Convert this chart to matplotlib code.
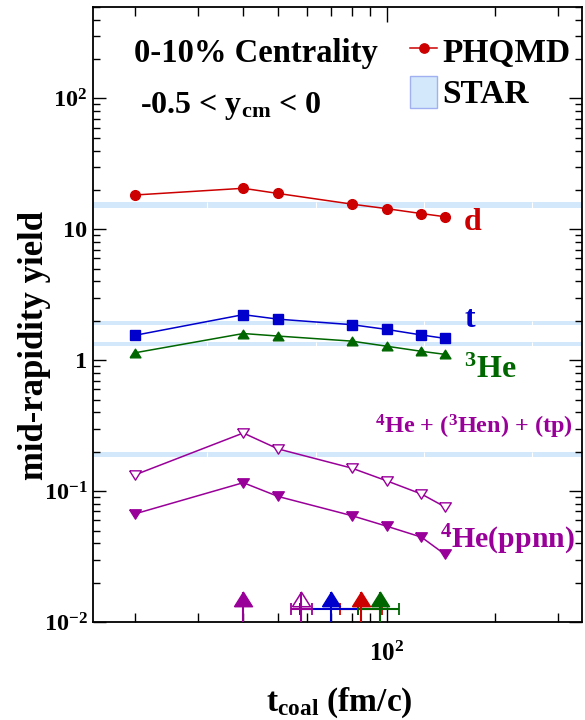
import matplotlib
matplotlib.use("Agg")
import matplotlib.pyplot as plt
from matplotlib.lines import Line2D
from matplotlib.patches import Patch
from matplotlib.ticker import FixedLocator, FixedFormatter, NullFormatter

# ---------------- data ----------------
t_coal = [20, 40, 50, 80, 100, 125, 145]          # fm/c
yield_d = [18.3, 20.6, 18.8, 15.6, 14.4, 13.2, 12.5]
yield_t = [1.55, 2.23, 2.06, 1.87, 1.72, 1.56, 1.47]
yield_he3 = [1.14, 1.60, 1.53, 1.40, 1.28, 1.17, 1.11]
yield_he4_sum = [0.133, 0.278, 0.210, 0.150, 0.120, 0.095, 0.076]
yield_he4_ppnn = [0.067, 0.116, 0.091, 0.065, 0.054, 0.0445, 0.033]

star_val = [15.3, 1.92, 1.33, 0.191]
star_err = [0.75, 0.07, 0.05, 0.0095]
band_breaks = [31.7, 63.6, 127, 254]

# best-matching coalescence times (arrows at the bottom)
best_t = [40, 57.7, 70, 85, 96.2]
best_lo = [40, 54.2, 57.4, 74.2, 83.4]
best_hi = [40, 62.0, 83.4, 97.4, 108.4]
best_filled = [True, False, True, True, True]
arrow_tip, arrow_mid, arrow_bar = 0.017, 0.0150, 0.0126

y_ticks = [0.01, 0.1, 1, 10, 100]
y_ticklabels = [r"$10^{-2}$", r"$10^{-1}$", "1", "10", r"$10^{2}$"]
x_ticks = [100]
x_ticklabels = [r"$10^{2}$"]

# ---------------- style ----------------
RED, BLUE, GREEN, PURPLE = "#cc0000", "#0000cc", "#006600", "#990099"
BAND = "#d3e8fb"

plt.rcParams["font.family"] = ["Liberation Serif", "DejaVu Serif"]
plt.rcParams["font.weight"] = "bold"
plt.rcParams["mathtext.fontset"] = "custom"
plt.rcParams["mathtext.rm"] = "Liberation Serif:bold"
plt.rcParams["mathtext.it"] = "Liberation Serif:bold"
plt.rcParams["mathtext.bf"] = "Liberation Serif:bold"
plt.rcParams["mathtext.default"] = "rm"

tri_up = [(-1, -0.8), (1, -0.8), (0, 0.8), (-1, -0.8)]
tri_dn = [(-1, 0.8), (1, 0.8), (0, -0.8), (-1, 0.8)]

fig = plt.figure(figsize=(5.85, 7.2), dpi=100)
ax = fig.add_axes([93 / 585, 98 / 720, 489 / 585, 615 / 720])
ax.set_xscale("log")
ax.set_yscale("log")
ax.set_xlim(15.3, 349)
ax.set_ylim(0.01, 500)

# STAR bands
for v, e in zip(star_val, star_err):
    ax.axhspan(v - e, v + e, color=BAND, lw=0, zorder=1)
    ax.vlines(band_breaks, v - e, v + e, color="white", lw=0.8, zorder=1.5)

# PHQMD curves
lw = 1.1
ax.plot(t_coal, yield_d, color=RED, lw=lw, marker="o", ms=7.0, zorder=3)
ax.plot(t_coal, yield_t, color=BLUE, lw=lw, marker="s", ms=7.0, zorder=3)
ax.plot(t_coal, yield_he3, color=GREEN, lw=lw, marker=tri_up, ms=7.8, zorder=3)
ax.plot(t_coal, yield_he4_sum, color=PURPLE, lw=lw, marker=tri_dn, ms=8.4,
        mfc="white", mec=PURPLE, mew=1.0, zorder=3)
ax.plot(t_coal, yield_he4_ppnn, color=PURPLE, lw=lw, marker=tri_dn, ms=8.4, zorder=3)

# arrows with uncertainty bars
arrow_cols = [PURPLE, PURPLE, BLUE, RED, GREEN]
order = [3, 2, 4, 1, 0]
for i in order:
    c = arrow_cols[i]
    if best_hi[i] > best_lo[i]:
        ax.errorbar([best_t[i]], [arrow_bar],
                    xerr=[[best_t[i] - best_lo[i]], [best_hi[i] - best_t[i]]],
                    fmt="none", ecolor=c, elinewidth=1.5, capsize=4.6,
                    capthick=1.3, zorder=4)
for i in order:
    c = arrow_cols[i]
    ax.vlines(best_t[i], 0.01, arrow_tip, color=c, lw=1.5, zorder=5)
    if best_filled[i]:
        ax.plot([best_t[i]], [arrow_mid], marker=tri_up, ms=13, color=c,
                mec=c, lw=0, zorder=6)
    else:
        ax.plot([best_t[i]], [arrow_mid], marker=tri_up, ms=13, mfc="none",
                mec=c, mew=1.1, lw=0, zorder=6)

# ticks
ax.yaxis.set_major_locator(FixedLocator(y_ticks))
ax.yaxis.set_major_formatter(FixedFormatter(y_ticklabels))
ax.yaxis.set_minor_formatter(NullFormatter())
ax.xaxis.set_major_locator(FixedLocator(x_ticks))
ax.xaxis.set_major_formatter(FixedFormatter(x_ticklabels))
ax.xaxis.set_minor_formatter(NullFormatter())
ax.tick_params(axis="both", which="both", direction="in", top=True, right=True,
               width=1.0, color="black")
ax.tick_params(axis="y", which="major", length=9.5, pad=4, labelsize=17.5)
ax.tick_params(axis="y", which="minor", length=5)
ax.tick_params(axis="x", which="major", length=11, pad=14, labelsize=18)
ax.tick_params(axis="x", which="minor", length=6.5)
for s in ax.spines.values():
    s.set_linewidth(1.3)

# axis labels
ax.set_xlabel(r"t$_{\mathregular{coal}}$ (fm/c)", fontsize=24, fontweight="bold")
ax.xaxis.set_label_coords(0.503, -0.104)
ax.set_ylabel("mid-rapidity yield", fontsize=25, fontweight="bold")
ax.yaxis.set_label_coords(-0.085, 0.45)

# annotations
T = ax.transAxes
ax.text(0.0838, 0.9106, "0-10% Centrality", transform=T, fontsize=23.5,
        va="baseline", ha="left")
ax.text(0.0961, 0.8276, r"-0.5 < y$_{\mathregular{cm}}$ < 0", transform=T,
        fontsize=23, va="baseline", ha="left")
ax.text(0.7587, 0.6374, "d", transform=T, fontsize=23, color=RED, va="baseline")
ax.text(0.7587, 0.4797, "t", transform=T, fontsize=23, color=BLUE, va="baseline")
ax.text(0.7587, 0.3967, r"$^{3}$He", transform=T, fontsize=23, color=GREEN,
        va="baseline")
ax.text(0.5767, 0.3073, r"$^{4}$He + ($^{3}$Hen) + (tp)", transform=T,
        fontsize=17.5, color=PURPLE, va="baseline")
ax.text(0.7096, 0.120, r"$^{4}$He(ppnn)", transform=T, fontsize=21.5,
        color=PURPLE, va="baseline")

# legend
handles = [Line2D([], [], color=RED, lw=lw, marker="o", ms=6.7),
           Patch(facecolor=BAND, edgecolor="#a0b0f0", lw=1)]
ax.legend(handles, ["PHQMD", "STAR"], loc="upper left",
          bbox_to_anchor=(0.648, 0.955), frameon=False, fontsize=24,
          handlelength=0.82, handleheight=1.1, handletextpad=0.15,
          labelspacing=0.2, borderpad=0, borderaxespad=0)

fig.savefig("out.png", dpi=100)
